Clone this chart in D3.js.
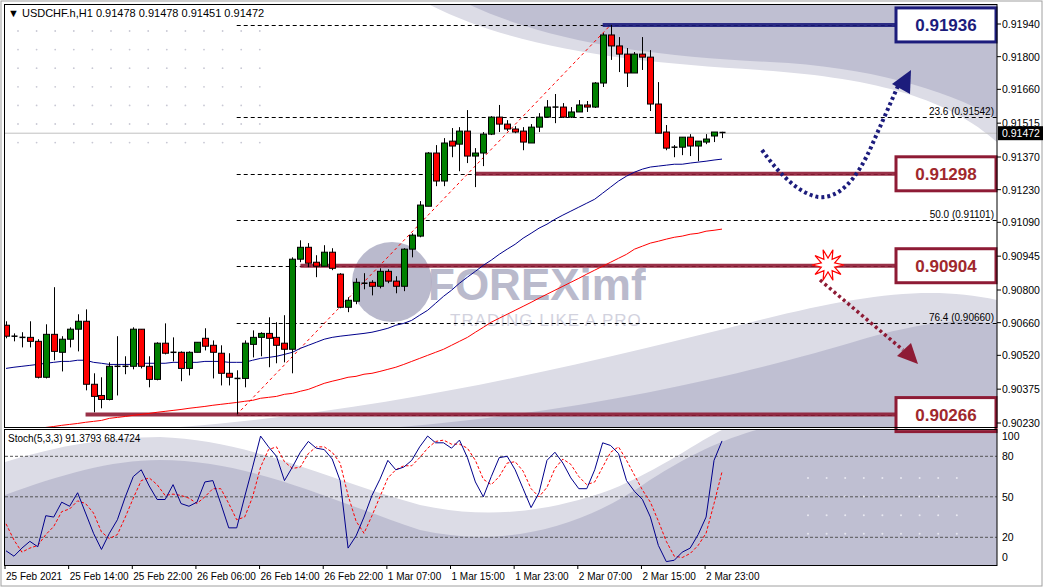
<!DOCTYPE html>
<html><head><meta charset="utf-8">
<script src="https://cdn.jsdelivr.net/npm/d3@7"></script>
<style>body{margin:0;background:#fff}svg{display:block;font-family:"Liberation Sans",Arial,sans-serif}</style>
</head><body>
<svg id="chart" width="1044" height="588"></svg>
<script>
// prices stored x 1e5
const opens = [90649,90602,90597,90597,90580,90426,90610,90533,90589,90632,90666,90396,90348,90331,90473,90473,90473,90632,90473,90417,90572,90533,90533,90464,90533,90593,90563,90529,90443,90421,90421,90567,90597,90614,90597,90572,90546,90932,90983,90919,90902,90962,90868,90726,90752,90829,90833,90816,90880,90838,90816,90975,91031,91159,91387,91267,91438,91425,91481,91374,91387,91468,91541,91511,91490,91481,91430,91498,91541,91584,91584,91541,91563,91593,91584,91687,91893,91846,91811,91730,91811,91798,91597,91477,91412,91412,91455,91417,91434,91460,91478];
const highs = [90666,90614,90619,90666,90589,90653,90812,90602,90640,90696,90717,90443,90426,90490,90602,90516,90640,90632,90516,90576,90657,90597,90537,90537,90576,90636,90584,90563,90529,90456,90584,90627,90619,90683,90662,90692,90940,91013,91001,90949,90992,90979,90872,90769,90850,90872,90842,90893,90889,90859,90979,91043,91181,91391,91421,91451,91494,91498,91571,91408,91477,91545,91593,91528,91502,91498,91511,91558,91614,91640,91601,91584,91614,91610,91691,91901,91936,91884,91837,91820,91884,91828,91691,91507,91421,91455,91468,91438,91468,91477,91478];
const lows = [90593,90580,90554,90554,90421,90421,90499,90451,90554,90537,90370,90276,90293,90327,90348,90439,90460,90464,90383,90413,90524,90494,90409,90434,90533,90541,90421,90391,90391,90267,90383,90511,90516,90469,90486,90490,90443,90919,90898,90855,90902,90885,90722,90705,90739,90803,90777,90807,90829,90786,90795,90940,91026,91159,91245,91245,91369,91309,91344,91241,91331,91464,91477,91481,91472,91399,91430,91477,91541,91515,91537,91537,91563,91563,91580,91670,91786,91734,91670,91730,91743,91567,91472,91399,91369,91378,91374,91352,91425,91434,91451];
const closes = [90602,90602,90597,90580,90426,90610,90537,90589,90632,90666,90396,90344,90331,90473,90473,90473,90632,90473,90417,90572,90529,90533,90464,90533,90576,90559,90533,90443,90426,90421,90572,90597,90614,90593,90563,90546,90932,90983,90915,90902,90962,90893,90726,90756,90833,90829,90816,90880,90838,90816,90975,91035,91164,91387,91267,91430,91417,91481,91374,91387,91468,91541,91511,91490,91477,91434,91498,91541,91584,91584,91541,91563,91593,91584,91687,91893,91846,91811,91730,91811,91798,91597,91472,91408,91412,91455,91417,91438,91447,91477,91472];
const maFast = [90464,90469,90473,90477,90481,90486,90490,90494,90494,90499,90499,90490,90486,90481,90481,90481,90481,90486,90486,90486,90486,90490,90490,90490,90490,90494,90494,90494,90490,90490,90490,90499,90507,90511,90516,90524,90533,90550,90563,90576,90589,90597,90602,90606,90610,90614,90619,90627,90636,90649,90657,90670,90692,90713,90743,90773,90799,90829,90855,90880,90906,90928,90953,90975,90996,91022,91043,91065,91082,91103,91121,91138,91155,91172,91189,91215,91241,91267,91288,91305,91318,91327,91331,91335,91339,91339,91344,91348,91352,91357,91361];
const maSlow = [90190,90194,90198,90203,90207,90211,90215,90220,90224,90228,90233,90237,90241,90250,90254,90258,90263,90267,90271,90276,90280,90284,90288,90293,90297,90301,90306,90310,90314,90318,90323,90327,90336,90340,90344,90353,90357,90366,90374,90387,90400,90409,90417,90426,90430,90439,90443,90451,90460,90469,90481,90494,90507,90520,90533,90546,90563,90580,90597,90619,90640,90662,90679,90696,90713,90730,90747,90765,90782,90799,90816,90833,90850,90868,90885,90902,90919,90936,90953,90975,90988,91001,91009,91018,91026,91031,91039,91043,91052,91056,91061];
const stochK = [10,6,12,17,13,36,35,46,43,53,38,23,11,23,33,50,65,70,58,48,48,59,45,43,46,61,62,45,27,27,50,72,95,87,80,62,72,83,91,86,85,78,62,12,21,35,51,63,77,70,72,77,87,95,90,90,86,92,79,61,50,65,79,80,70,56,42,53,77,83,75,64,56,56,70,90,88,82,62,54,48,35,14,2,3,9,12,22,35,77,91.38];
const stochD = [30,18,9,12,14,22,28,39,41,47,45,38,24,19,22,35,49,62,64,59,51,52,51,49,45,50,56,56,45,33,35,50,72,85,87,76,71,72,82,87,87,83,75,51,32,23,36,50,64,70,73,73,79,86,91,92,89,89,86,77,63,59,65,75,76,69,56,50,57,71,78,74,65,59,61,72,83,87,77,66,55,46,32,17,6,5,8,14,23,45,68.47];
const priceTicks = [0.91940,0.91800,0.91660,0.91515,0.91370,0.91230,0.91090,0.90945,0.90800,0.90660,0.90520,0.90375,0.90230];
const stochTicks = [100,80,50,20,0];
const timeLabels = ["25 Feb 2021","25 Feb 14:00","25 Feb 22:00","26 Feb 06:00","26 Feb 14:00","26 Feb 22:00","1 Mar 07:00","1 Mar 15:00","1 Mar 23:00","2 Mar 07:00","2 Mar 15:00","2 Mar 23:00"];
const fibLevels = [0, 23.6, 38.2, 50.0, 61.8, 76.4, 100];
const fibHigh = 0.91936, fibLow = 0.90266;
const keyLevels = [{v:0.91936,c:"#1c1c7c",from:75},{v:0.91298,c:"#8e1b35",from:59},{v:0.90904,c:"#8e1b35",from:37},{v:0.90266,c:"#8e1b35",from:10}];

const svg = d3.select("#chart");
const L = 5, R = 997, T = 5, MB = 427, ST = 429, SB = 565;
const x = d3.scaleLinear().domain([0, 90]).range([6, 722]);
const y = d3.scaleLinear().domain([0.9023, 0.9194]).range([423, 24]);
const ys = d3.scaleLinear().domain([0, 100]).range([564.3, 429.3]);
const P = v => v / 1e5;

svg.append("rect").attr("x", 1).attr("y", 1).attr("width", 1041).attr("height", 585).attr("fill", "#fff").attr("stroke", "#a0a0a0");
const defs = svg.append("defs");
defs.append("clipPath").attr("id", "cm").append("rect").attr("x", L).attr("y", T).attr("width", R - L).attr("height", MB - T);
defs.append("clipPath").attr("id", "cs").append("rect").attr("x", L).attr("y", ST).attr("width", R - L).attr("height", SB - ST);

const gm = svg.append("g").attr("clip-path", "url(#cm)");
const gs = svg.append("g").attr("clip-path", "url(#cs)");

// watermark waves
gm.append("path").attr("d", "M430 5 C520 50 630 62 760 70 C880 78 950 100 997 142 L997 5 Z").attr("fill", "#dcdce6");
gm.append("path").attr("d", "M470 5 C550 42 650 56 770 62 C870 67 940 88 997 118 L997 5 Z").attr("fill", "#bfbfd2");
gm.append("path").attr("d", "M180 427 C400 410 600 360 760 320 C860 295 930 285 997 300 L997 427 Z").attr("fill", "#dcdce6");
gm.append("path").attr("d", "M400 427 C600 410 760 370 860 340 C930 320 970 318 997 325 L997 427 Z").attr("fill", "#bfbfd2");
gs.append("rect").attr("x", L).attr("y", ST).attr("width", R - L).attr("height", SB - ST).attr("fill", "#bfbfd2");
gs.append("path").attr("d", "M5 429 L5 495 C60 475 110 460 160 460 C250 460 330 500 420 530 C500 548 580 530 650 480 C690 455 720 440 760 429 Z").attr("fill", "#dcdce6");
gs.append("path").attr("d", "M5 429 L5 462 C60 445 110 437 160 437 C250 440 330 480 420 505 C480 518 540 515 610 490 C660 470 700 440 724 429 Z").attr("fill", "#fff");

// dots
const dots = gm.append("g").attr("fill", "#c8c8d4");
for (let i = 0; i < 14; i++) for (let j = 0; j < 7; j++)
  dots.append("circle").attr("cx", 18 + i * 18.6).attr("cy", 31 + j * 18.6).attr("r", 0.9);
const dots2 = gs.append("g").attr("fill", "#e8e8f0");
for (let i = 0; i < 9; i++) for (let j = 0; j < 4; j++)
  dots2.append("circle").attr("cx", 808 + i * 18.6).attr("cy", 478 + j * 18.6).attr("r", 1);

// stoch levels
[80, 50, 20].forEach(v => gs.append("line").attr("x1", L).attr("x2", R).attr("y1", ys(v)).attr("y2", ys(v)).attr("stroke", "#555").attr("stroke-dasharray", "3,2"));

// watermark logo
gm.append("circle").attr("cx", 392).attr("cy", 282).attr("r", 40).attr("fill", "#aeaec4").attr("opacity", 0.85);
gm.append("text").attr("x", 428).attr("y", 300).text("FOREXimf").attr("font-size", 44).attr("font-weight", "bold").attr("fill", "#aeaec4").attr("opacity", 0.85);
gm.append("text").attr("x", 450).attr("y", 326).text("TRADING LIKE A PRO").attr("font-size", 17).attr("fill", "#d2d2de").attr("letter-spacing", 1);

// current price line
gm.append("line").attr("x1", L).attr("x2", R).attr("y1", y(0.91472)).attr("y2", y(0.91472)).attr("stroke", "#c0c0c0");

// fibo
fibLevels.forEach(f => {
  const v = fibHigh - (fibHigh - fibLow) * f / 100, yy = Math.round(y(v)) + 0.5;
  gm.append("line").attr("x1", x(29)).attr("x2", R).attr("y1", yy).attr("y2", yy).attr("stroke", "#000").attr("stroke-dasharray", "4,3");
  if ([23.6, 50, 76.4].includes(f))
    gm.append("text").attr("x", R - 3).attr("y", yy - 3).attr("text-anchor", "end").attr("font-size", 10).text(f.toFixed(1) + " (" + v.toFixed(5) + ")");
});
gm.append("line").attr("x1", x(29)).attr("y1", y(fibLow)).attr("x2", x(76)).attr("y2", y(fibHigh)).attr("stroke", "#f00").attr("stroke-dasharray", "3,3");

// key levels
keyLevels.forEach(k => gm.append("line").attr("x1", x(k.from)).attr("x2", 897).attr("y1", y(k.v)).attr("y2", y(k.v)).attr("stroke", k.c).attr("stroke-width", 4).attr("opacity", 0.9));

// MAs
const line = d3.line().x((d, i) => x(i)).y(d => y(P(d)));
gm.append("path").attr("d", line(maSlow)).attr("fill", "none").attr("stroke", "#f00");
gm.append("path").attr("d", line(maFast)).attr("fill", "none").attr("stroke", "#00008b");

// candles
const cg = gm.append("g");
opens.forEach((o, i) => {
  const cx = Math.round(x(i)) + 0.5, c = closes[i];
  cg.append("line").attr("x1", cx).attr("x2", cx).attr("y1", y(P(highs[i]))).attr("y2", y(P(lows[i]))).attr("stroke", "#000");
  const top = y(P(Math.max(o, c))), bot = y(P(Math.min(o, c)));
  if (bot - top < 1.5) cg.append("line").attr("x1", cx - 3).attr("x2", cx + 3).attr("y1", (top + bot) / 2).attr("y2", (top + bot) / 2).attr("stroke", "#000").attr("stroke-width", 1.5);
  else cg.append("rect").attr("x", cx - 3).attr("y", top).attr("width", 6).attr("height", bot - top).attr("fill", c > o ? "#008000" : "#ff0000").attr("stroke", "#000");
});

// arrows
gm.append("path").attr("d", "M762 150 Q792 192 818 197 Q848 200 872 145 L898 86").attr("fill", "none").attr("stroke", "#1c1c7c").attr("stroke-width", 4).attr("stroke-dasharray", "3,3");
gm.append("polygon").attr("points", "892,84 911,70 910,94").attr("fill", "#1c1c7c");
gm.append("path").attr("d", "M820 280 L903 350").attr("fill", "none").attr("stroke", "#8e1b35").attr("stroke-width", 3.5).attr("stroke-dasharray", "3,3");
gm.append("polygon").attr("points", "897,356 918,364 911,343").attr("fill", "#8e1b35");
const star = d3.range(20).map(k => { const r = k % 2 ? 7 : 16, a = k * Math.PI / 10; return [828 + r * Math.cos(a), 265 + r * Math.sin(a)]; });
gm.append("polygon").attr("points", star.join(" ")).attr("fill", "#fff").attr("stroke", "#f00").attr("stroke-width", 1.2);

// level boxes
keyLevels.forEach(k => {
  const yy = y(k.v);
  svg.append("rect").attr("x", 896).attr("y", yy - 17).attr("width", 100).attr("height", 34).attr("fill", "#fff").attr("stroke", k.c).attr("stroke-width", 3);
  svg.append("text").attr("x", 946).attr("y", yy + 6).attr("text-anchor", "middle").attr("font-size", 17).attr("font-weight", "bold").attr("fill", k.c === "#1c1c7c" ? "#1c1c7c" : "#a0282d").text(k.v.toFixed(5));
});

// stochastic
const ls = d3.line().x((d, i) => x(i)).y(d => ys(d));
gs.append("path").attr("d", ls(stochD)).attr("fill", "none").attr("stroke", "#f00").attr("stroke-dasharray", "3,2");
gs.append("path").attr("d", ls(stochK)).attr("fill", "none").attr("stroke", "#00008b");

// frames
svg.append("rect").attr("x", 4.5).attr("y", 4.5).attr("width", R - 4.5).attr("height", MB - 4).attr("fill", "none").attr("stroke", "#000");
svg.append("rect").attr("x", 4.5).attr("y", ST + 0.5).attr("width", R - 4.5).attr("height", SB - ST).attr("fill", "none").attr("stroke", "#000");

// axes
const ax = svg.append("g").attr("font-size", 10.5);
priceTicks.forEach(t => {
  ax.append("line").attr("x1", R).attr("x2", R + 4).attr("y1", y(t)).attr("y2", y(t)).attr("stroke", "#000");
  ax.append("text").attr("x", R + 5).attr("y", y(t) + 4).text(t.toFixed(5));
});
stochTicks.forEach(t => {
  const yy = t === 100 ? 436 : t === 0 ? 557 : ys(t);
  ax.append("text").attr("x", R + 5).attr("y", yy + 4).text(t);
});
ax.append("rect").attr("x", R + 1).attr("y", y(0.91472) - 7).attr("width", 45).attr("height", 14).attr("fill", "#000");
ax.append("text").attr("x", R + 5).attr("y", y(0.91472) + 4).attr("fill", "#fff").text("0.91472");
timeLabels.forEach((t, i) => {
  const xx = x(i * 8) - 1;
  ax.append("line").attr("x1", xx).attr("x2", xx).attr("y1", SB).attr("y2", SB + 4).attr("stroke", "#000");
  ax.append("text").attr("x", xx + 1).attr("y", 580).attr("font-size", 10).text(t);
});

// headers
svg.append("text").attr("x", 8).attr("y", 17).attr("font-size", 11).text("\u25BC USDCHF.h,H1  0.91478 0.91478 0.91451 0.91472");
svg.append("text").attr("x", 8).attr("y", 442).attr("font-size", 10).text("Stoch(5,3,3) 91.3793 68.4724");
</script>
</body></html>
